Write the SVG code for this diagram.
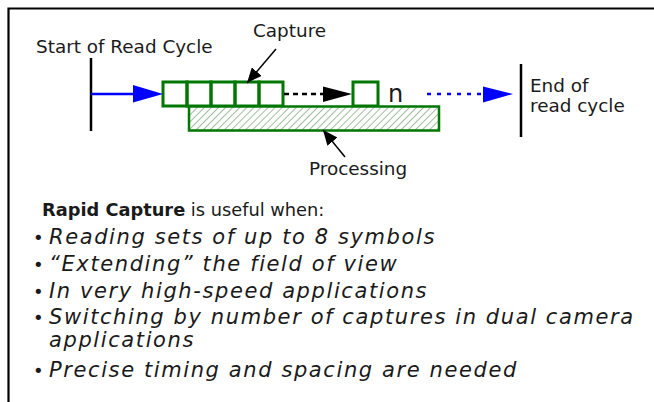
<svg xmlns="http://www.w3.org/2000/svg" width="654" height="402" viewBox="0 0 654 402">
  <style>
    .lbl { font-family: "DejaVu Sans", Verdana, sans-serif; font-size: 18.4px; fill: #1a1a1a; }
    .note { font-family: "DejaVu Sans", Verdana, sans-serif; font-size: 17.8px; fill: #1a1a1a; }
    .it { font-family: "DejaVu Sans", Verdana, sans-serif; font-style: italic; font-size: 21px; letter-spacing: 1.6px; fill: #1a1a1a; }
    .dot { font-family: "DejaVu Sans", Verdana, sans-serif; font-size: 18px; fill: #1a1a1a; }
    .bold { font-weight: bold; }
    .box { fill: none; stroke: #007700; stroke-width: 3; }
    .tick { stroke: #000; stroke-width: 2.5; }
  </style>
  <defs>
    <pattern id="hatch" patternUnits="userSpaceOnUse" width="5" height="5" patternTransform="rotate(45)">
      <rect width="5" height="5" fill="#ffffff"/>
      <line x1="0" y1="0" x2="0" y2="5" stroke="#4f8a4f" stroke-width="1.1"/>
    </pattern>
    <marker id="ptr" markerUnits="userSpaceOnUse" markerWidth="16" markerHeight="13" refX="15" refY="6.5" orient="auto">
      <path d="M0,0 L15,6.5 L0,13 Z" fill="#000"/>
    </marker>
  </defs>

  <!-- frame -->
  <path d="M8.5,402 V8.5 H654" fill="none" stroke="#000" stroke-width="2.2"/>

  <!-- cycle boundaries -->
  <g id="start-cycle">
    <line class="tick" x1="91" y1="58" x2="91" y2="131"/>
    <text class="lbl" x="36" y="53">Start of Read Cycle</text>
  </g>
  <g id="end-cycle">
    <line class="tick" x1="521" y1="64" x2="521" y2="137"/>
    <text class="lbl" x="530" y="92">End of</text>
    <text class="lbl" x="530" y="112">read cycle</text>
  </g>

  <!-- capture frames -->
  <g id="captures">
    <rect class="box" x="163" y="82" width="24" height="24"/>
    <rect class="box" x="187" y="82" width="24" height="24"/>
    <rect class="box" x="211" y="82" width="24" height="24"/>
    <rect class="box" x="235" y="82" width="24" height="24"/>
    <rect class="box" x="259" y="82" width="24" height="24"/>
  </g>
  <g id="capture-n">
    <rect class="box" x="353" y="82" width="25" height="24"/>
    <text class="lbl" x="388" y="102" style="font-size:24px">n</text>
  </g>

  <!-- processing bar -->
  <g id="processing">
    <rect x="189" y="106.5" width="250" height="24" fill="url(#hatch)" stroke="#007700" stroke-width="2.5"/>
    <text class="lbl" x="309" y="175">Processing</text>
  </g>

  <g id="capture-label">
    <text class="lbl" x="253" y="37">Capture</text>
  </g>

  <!-- connectors -->
  <g id="connectors">
    <line x1="91" y1="94" x2="134" y2="94" stroke="#0000ff" stroke-width="2.5"/>
    <polygon points="133,85 163,94 133,102.5" fill="#0000ff"/>
    <line x1="284" y1="94" x2="323" y2="94" stroke="#000" stroke-width="2.5" stroke-dasharray="5 4"/>
    <polygon points="323,86.5 352,94 323,102" fill="#000"/>
    <line x1="427" y1="94" x2="484" y2="94" stroke="#0000ff" stroke-width="2.5" stroke-dasharray="4 6"/>
    <polygon points="483,86.5 513,94 483,102.5" fill="#0000ff"/>
    <line x1="276" y1="49" x2="247" y2="83" stroke="#000" stroke-width="1.5" marker-end="url(#ptr)"/>
    <line x1="345" y1="157" x2="323" y2="130" stroke="#000" stroke-width="1.5" marker-end="url(#ptr)"/>
  </g>

  <!-- usage notes -->
  <g id="notes">
    <text class="note" x="42" y="216"><tspan class="bold">Rapid Capture</tspan> is useful when:</text>
    <text class="dot" x="33" y="244">•</text>
    <text class="it" x="49" y="244">Reading sets of up to 8 symbols</text>
    <text class="dot" x="33" y="271">•</text>
    <text class="it" x="49" y="271">“Extending” the field of view</text>
    <text class="dot" x="33" y="298">•</text>
    <text class="it" x="49" y="298">In very high-speed applications</text>
    <text class="dot" x="33" y="324">•</text>
    <text class="it" x="49" y="324">Switching by number of captures in dual camera</text>
    <text class="it" x="49" y="347">applications</text>
    <text class="dot" x="33" y="377">•</text>
    <text class="it" x="49" y="377">Precise timing and spacing are needed</text>
  </g>
</svg>
